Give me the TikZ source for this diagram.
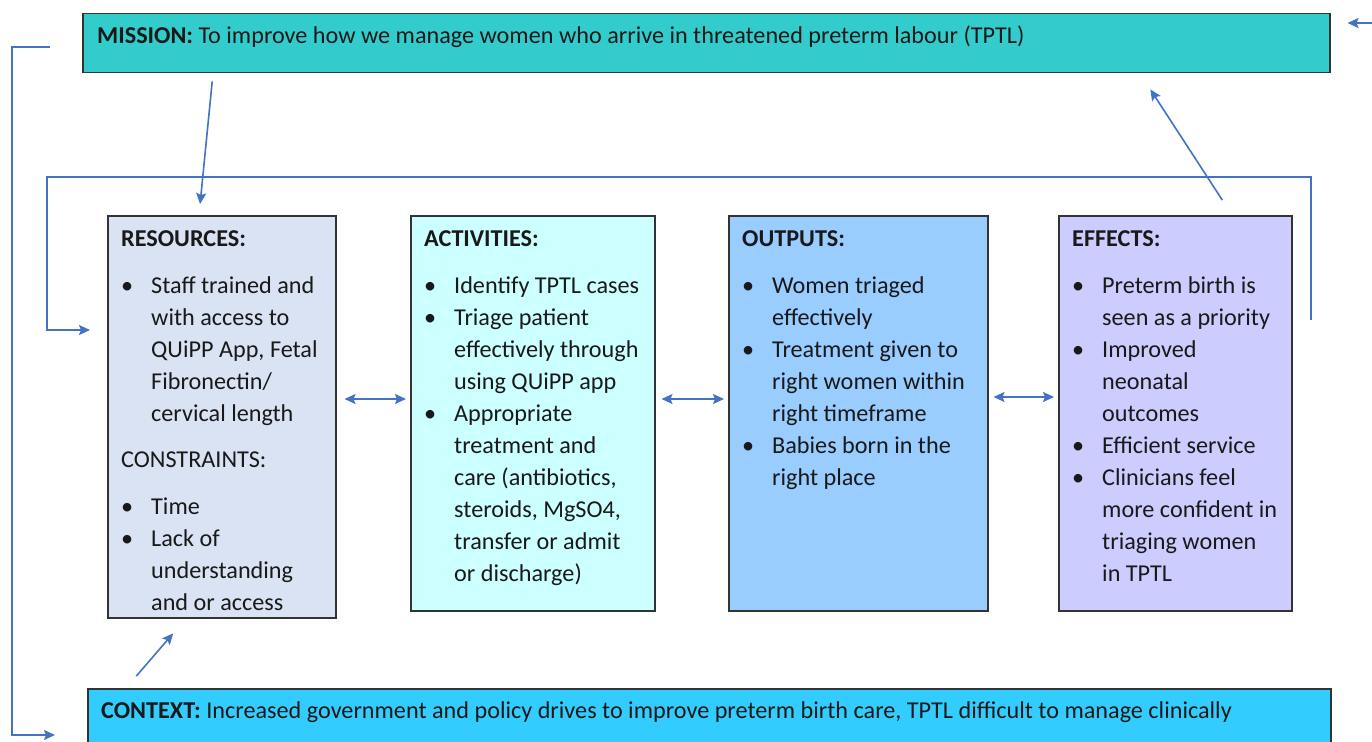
\documentclass[tikz,border=0pt]{standalone}
\usepackage{fontspec}
\setmainfont{Carlito}
\usetikzlibrary{arrows.meta}
\definecolor{lnkblue}{HTML}{4472C4}
\definecolor{misfill}{HTML}{33CCCC}
\definecolor{ctxfill}{HTML}{33CCFF}
\definecolor{resfill}{HTML}{DAE3F3}
\definecolor{actfill}{HTML}{CCFFFF}
\definecolor{outfill}{HTML}{99CCFF}
\definecolor{efffill}{HTML}{CCCCFF}
\newcommand{\bl}{\makebox[30pt][l]{\textbullet}}
\newcommand{\ind}{\hspace*{30pt}}

\begin{document}
\begin{tikzpicture}
[x=1pt,y=-1pt
,bx/.style={draw=black!80,line width=1.5pt,anchor=north west,inner sep=0pt}
,txt/.style={anchor=north west,align=left,inner sep=0pt,text=black!90,font=\fontsize{24.2}{32}\selectfont}
,lnk/.style={draw=lnkblue,line width=1.6pt}
,arr/.style={lnk,arrows={-Stealth[length=11pt,width=10pt,inset=2pt]}}
,dbl/.style={lnk,arrows={Stealth[length=11pt,width=10pt,inset=2pt]-Stealth[length=11pt,width=10pt,inset=2pt]}}]
\useasboundingbox (0,0) rectangle (1372,741);
\node[bx,fill=misfill,minimum width=1247pt,minimum height=59pt] (mis) at (82,13) {};
\node[bx,fill=ctxfill,minimum width=1243pt,minimum height=80pt] (ctx) at (87,688) {};
\node[bx,fill=resfill,minimum width=228pt,minimum height=402pt] (res) at (107,215) {};
\node[bx,fill=actfill,minimum width=244pt,minimum height=395pt] (act) at (410,215) {};
\node[bx,fill=outfill,minimum width=259pt,minimum height=395pt] (out) at (728,215) {};
\node[bx,fill=efffill,minimum width=233pt,minimum height=395pt] (eff) at (1058,215) {};
\node[txt] (mis-t) at (97,20.6) {\strut\textbf{MISSION:} To improve how we manage women who arrive in threatened preterm labour (TPTL)};
\node[txt] (ctx-t) at (101,695.6) {\strut\textbf{CONTEXT:} Increased government and policy drives to improve preterm birth care, TPTL difficult to manage clinically};
\node[txt] (res-t) at (121,223.6) {\strut\textbf{RESOURCES:}\\[15pt]
  \bl Staff trained and\\ \ind with access to\\ \ind QUiPP App, Fetal\\ \ind Fibronectin/\\ \ind cervical length\\[14pt]
  CONSTRAINTS:\\[15pt]
  \bl Time\\ \bl Lack of\\ \ind understanding\\ \ind and or access};
\node[txt] (act-t) at (424,223.6) {\strut\textbf{ACTIVITIES:}\\[15pt]
  \bl Identify TPTL cases\\ \bl Triage patient\\ \ind effectively through\\ \ind using QUiPP app\\
  \bl Appropriate\\ \ind treatment and\\ \ind care (antibiotics,\\ \ind steroids, MgSO4,\\ \ind transfer or admit\\ \ind or discharge)};
\node[txt] (out-t) at (742,223.6) {\strut\textbf{OUTPUTS:}\\[15pt]
  \bl Women triaged\\ \ind effectively\\ \bl Treatment given to\\ \ind right women within\\ \ind right timeframe\\
  \bl Babies born in the\\ \ind right place};
\node[txt] (eff-t) at (1072,223.6) {\strut\textbf{EFFECTS:}\\[15pt]
  \bl Preterm birth is\\ \ind seen as a priority\\ \bl Improved\\ \ind neonatal\\ \ind outcomes\\
  \bl Efficient service\\ \bl Clinicians feel\\ \ind more confident in\\ \ind triaging women\\ \ind in TPTL};
\coordinate (o1) at (50,47);
\coordinate (o2) at (12,735);
\coordinate (i1) at (1311,320);
\coordinate (i2) at (47,177);
\coordinate (i3) at (47,330);
\coordinate (rin) at (1372,23);
\draw[arr,shorten >=32pt] (o1) -| (o2) -- (ctx.west |- o2);
\draw[arr,shorten >=17pt] (i1) |- (i2) |- (res.west |- i3);
\draw[arr,shorten >=17pt] (rin) -- (mis.east |- rin);
\draw[arr,shorten <=8pt,shorten >=11pt] (mis.south -| 213,0) -- (res.north -| 199,0);
\draw[arr,shorten <=15.7pt,shorten >=19.6pt] (ctx.north -| 126,0) -- (res.south -| 186,0);
\draw[arr,shorten <=17.8pt,shorten >=19pt] (eff.north -| 1232,0) -- (mis.south -| 1140,0);
\draw[dbl,shorten <=8pt,shorten >=4pt] (res.east |- 0,399) -- (act.west |- 0,399);
\draw[dbl,shorten <=6pt,shorten >=4pt] (act.east |- 0,399) -- (out.west |- 0,399);
\draw[dbl,shorten <=5pt,shorten >=4pt] (out.east |- 0,397) -- (eff.west |- 0,397);
\end{tikzpicture}
\end{document}
